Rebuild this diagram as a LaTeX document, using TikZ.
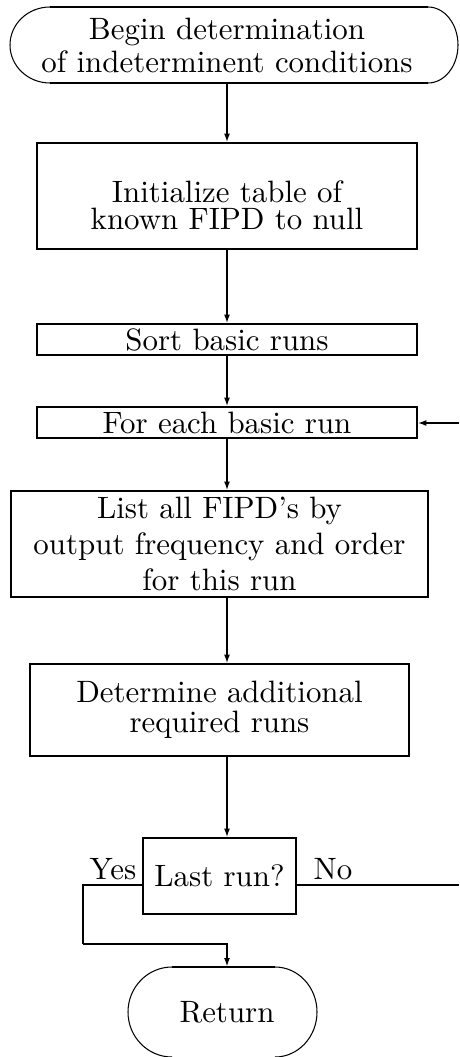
\documentclass[tikz,border=0pt]{standalone}
\usetikzlibrary{arrows.meta}
% one drawing unit = one third of a point
\def\pxu{0.33333pt}
\begin{document}
\begin{tikzpicture}[x=0.33333pt,y=-0.33333pt,
  box/.style={draw,line width=0.667pt,inner sep=0pt,align=center,
    font=\fontsize{10.3}{11}\selectfont},
  txt/.style={inner sep=0pt,align=center,font=\fontsize{10.3}{11}\selectfont},
  flow/.style={line width=0.45pt,-{Latex[length=2.8pt,width=2pt]}},
  link/.style={line width=0.45pt},
  termedge/.style={line width=0.667pt},
  termcurve/.style={line width=0.35pt}]
\useasboundingbox (0,0) rectangle (459,1057);

% vertical axis of the main flow
\coordinate (axis) at (227,0);

% start terminal
\node[txt,minimum width=300*\pxu,minimum height=76*\pxu] (begin) at (227,45)
  {Begin determination\\of indeterminent conditions};
\draw[termedge] (50,7) -- (428,7);
\draw[termedge] (50,83) -- (428,83);
\draw[termcurve] (50,7) arc[start angle=90,end angle=270,x radius=40*\pxu,y radius=38*\pxu];
\draw[termcurve] (428,7) arc[start angle=90,end angle=-90,x radius=30*\pxu,y radius=38*\pxu];

% process boxes
\node[box,minimum width=380*\pxu,minimum height=106*\pxu,
  label={[txt,font=\fontsize{10.3}{9}\selectfont,yshift=-9*\pxu]center:{Initialize table of\\known FIPD to null}}]
  (init) at (227,196) {};
\node[box,minimum width=380*\pxu,minimum height=31*\pxu] (sort) at (227,339.5) {Sort basic runs};
\node[box,minimum width=380*\pxu,minimum height=31*\pxu] (foreach) at (227,422.5) {For each basic run};
\node[box,minimum width=417*\pxu,minimum height=106*\pxu,font=\fontsize{10.3}{12}\selectfont]
  (list) at (219.5,544) {List all FIPD's by\\output frequency and order\\for this run};
\node[box,minimum width=379*\pxu,minimum height=92*\pxu,font=\fontsize{10.3}{10}\selectfont]
  (determine) at (219.5,710) {Determine additional\\required runs};
\node[box,minimum width=153*\pxu,minimum height=76*\pxu] (decision) at (219.5,876) {Last run?};

% return terminal
\node[txt,minimum width=100*\pxu,minimum height=90*\pxu] (return) at (227,1012) {Return};
\draw[termedge] (172,967) -- (275,967);
\draw[termcurve] (172,967) arc[start angle=90,end angle=270,x radius=44*\pxu,y radius=45*\pxu];
\draw[termcurve] (275,967) arc[start angle=90,end angle=-90,x radius=42*\pxu,y radius=45*\pxu];

% connectors
\draw[flow] (begin.south) -- (init.north);
\draw[flow] (init.south) -- (sort.north);
\draw[flow] (sort.south) -- (foreach.south |- foreach.north);
\draw[flow] (foreach.south) -- (axis |- list.north);
\draw[flow] (axis |- list.south) -- (axis |- determine.north);
\draw[flow] (axis |- determine.south) -- (axis |- decision.north);

% branch lines from the decision
\coordinate (yesin) at ([yshift=-9*\pxu]decision.west);
\coordinate (noout) at ([yshift=-9*\pxu]decision.east);
\coordinate (yescorner) at (83,944);
\coordinate (noend) at (459,885);
\coordinate (loopin) at (459,423);
\draw[link] (yesin) -| (yescorner);
\draw[flow] (yescorner) -| (axis |- return.north);
\draw[link] (noout) -- (noend);
\draw[flow] (loopin) -- (foreach.east |- loopin);

\node[txt,anchor=base] (yes) at (113,879) {Yes};
\node[txt,anchor=base] (no) at (333,879) {No};
\end{tikzpicture}
\end{document}
